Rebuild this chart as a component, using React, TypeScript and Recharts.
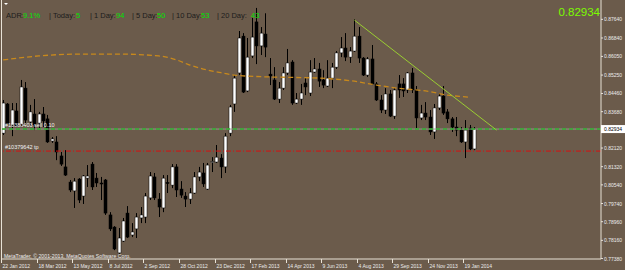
import React from 'react';
import { ComposedChart, Bar, Line, XAxis, YAxis, ReferenceLine } from 'recharts';

// weekly candles, 22 Jan 2012 .. early Feb 2014
const opens = [
  0.8276, 0.8401, 0.8311, 0.8371, 0.8315, 0.8469, 0.8324, 0.8358, 0.8319, 0.8358,
  0.8337, 0.8242, 0.8238, 0.8178, 0.8131, 0.8066, 0.8028, 0.8079, 0.8006, 0.8083,
  0.8143, 0.8083, 0.8062, 0.8075, 0.7925, 0.7873, 0.7762, 0.7813, 0.7933, 0.7839,
  0.7865, 0.7912, 0.7916, 0.7998, 0.8088, 0.7993, 0.7955, 0.8064, 0.8053, 0.8131,
  0.8036, 0.8006, 0.7993, 0.8019, 0.8088, 0.8105, 0.8036, 0.8150, 0.8152, 0.8169,
  0.8131, 0.8276, 0.8401, 0.8534, 0.8692, 0.8457, 0.8607, 0.8753, 0.8650, 0.8701,
  0.8529, 0.8504, 0.8422, 0.8469, 0.8534, 0.8581, 0.8405, 0.8422, 0.8491, 0.8448,
  0.8538, 0.8551, 0.8504, 0.8478, 0.8512, 0.8559, 0.8620, 0.8641, 0.8602, 0.8628,
  0.8692, 0.8598, 0.8525, 0.8594, 0.8487, 0.8418, 0.8375, 0.8444, 0.8349, 0.8487,
  0.8487, 0.8461, 0.8534, 0.8461, 0.8341, 0.8362, 0.8345, 0.8281, 0.8384, 0.8435,
  0.8367, 0.8337, 0.8302, 0.8289, 0.8238, 0.8298, 0.8208,
];
const highs = [
  0.8418, 0.8405, 0.8405, 0.8405, 0.8504, 0.8495, 0.8397, 0.8422, 0.8367, 0.8388,
  0.8354, 0.8259, 0.8263, 0.8195, 0.8203, 0.8075, 0.8083, 0.8083, 0.8096, 0.8139,
  0.8152, 0.8105, 0.8088, 0.8079, 0.7937, 0.7877, 0.7869, 0.7912, 0.7963, 0.7890,
  0.7933, 0.7959, 0.8019, 0.8109, 0.8105, 0.8019, 0.8096, 0.8096, 0.8143, 0.8143,
  0.8070, 0.8023, 0.8040, 0.8109, 0.8131, 0.8148, 0.8148, 0.8173, 0.8225, 0.8186,
  0.8276, 0.8397, 0.8525, 0.8714, 0.8705, 0.8684, 0.8770, 0.8813, 0.8731, 0.8790,
  0.8598, 0.8559, 0.8495, 0.8559, 0.8637, 0.8589, 0.8448, 0.8487, 0.8512, 0.8589,
  0.8598, 0.8577, 0.8546, 0.8589, 0.8577, 0.8628, 0.8688, 0.8705, 0.8645, 0.8765,
  0.8731, 0.8602, 0.8602, 0.8654, 0.8495, 0.8439, 0.8469, 0.8461, 0.8469, 0.8525,
  0.8512, 0.8538, 0.8555, 0.8478, 0.8397, 0.8409, 0.8375, 0.8401, 0.8448, 0.8478,
  0.8379, 0.8345, 0.8345, 0.8302, 0.8332, 0.8311, 0.8302,
];
const lows = [
  0.8268, 0.8311, 0.8263, 0.8302, 0.8302, 0.8311, 0.8311, 0.8289, 0.8298, 0.8302,
  0.8234, 0.8234, 0.8160, 0.8135, 0.8092, 0.8023, 0.7955, 0.7976, 0.7972, 0.8045,
  0.8032, 0.8045, 0.7989, 0.7925, 0.7856, 0.7774, 0.7758, 0.7809, 0.7826, 0.7830,
  0.7826, 0.7890, 0.7890, 0.7989, 0.7989, 0.7916, 0.7937, 0.8019, 0.8040, 0.8002,
  0.7998, 0.7959, 0.7972, 0.8015, 0.8070, 0.8045, 0.8032, 0.8109, 0.8148, 0.8083,
  0.8105, 0.8263, 0.8367, 0.8525, 0.8448, 0.8452, 0.8598, 0.8572, 0.8611, 0.8602,
  0.8482, 0.8418, 0.8405, 0.8461, 0.8525, 0.8397, 0.8401, 0.8397, 0.8439, 0.8435,
  0.8534, 0.8474, 0.8469, 0.8474, 0.8469, 0.8551, 0.8602, 0.8585, 0.8577, 0.8624,
  0.8577, 0.8521, 0.8517, 0.8482, 0.8414, 0.8362, 0.8358, 0.8345, 0.8337, 0.8427,
  0.8431, 0.8448, 0.8448, 0.8298, 0.8332, 0.8332, 0.8268, 0.8251, 0.8375, 0.8354,
  0.8319, 0.8281, 0.8263, 0.8234, 0.8169, 0.8203, 0.8203,
];
const closes = [
  0.8405, 0.8315, 0.8375, 0.8306, 0.8474, 0.8332, 0.8367, 0.8311, 0.8358, 0.8328,
  0.8238, 0.8251, 0.8195, 0.8143, 0.8096, 0.8032, 0.8070, 0.7989, 0.8092, 0.8092,
  0.8045, 0.8062, 0.8058, 0.7933, 0.7865, 0.7779, 0.7826, 0.7899, 0.7830, 0.7852,
  0.7916, 0.7925, 0.8006, 0.8092, 0.7998, 0.7959, 0.8083, 0.8060, 0.8131, 0.8032,
  0.8010, 0.7993, 0.8019, 0.8088, 0.8109, 0.8058, 0.8139, 0.8154, 0.8173, 0.8131,
  0.8263, 0.8388, 0.8512, 0.8684, 0.8452, 0.8602, 0.8688, 0.8650, 0.8705, 0.8645,
  0.8521, 0.8422, 0.8469, 0.8534, 0.8577, 0.8405, 0.8422, 0.8448, 0.8474, 0.8538,
  0.8551, 0.8499, 0.8482, 0.8512, 0.8559, 0.8620, 0.8641, 0.8602, 0.8628, 0.8692,
  0.8598, 0.8525, 0.8594, 0.8487, 0.8418, 0.8375, 0.8444, 0.8349, 0.8461, 0.8461,
  0.8457, 0.8534, 0.8461, 0.8341, 0.8362, 0.8345, 0.8281, 0.8384, 0.8435, 0.8362,
  0.8337, 0.8302, 0.8289, 0.8238, 0.8289, 0.8208, 0.82934,
];

// moving average read at a few bars, joined by the line
const maIdx = [0, 8, 17, 26, 35, 39, 42, 45, 49, 52, 58, 65, 71, 78, 84, 89, 95, 100, 105];
const maVals = [
  0.8590, 0.8607, 0.8615, 0.8615, 0.8607, 0.8590, 0.8568, 0.8551, 0.8535, 0.8525,
  0.8518, 0.8515, 0.8512, 0.8501, 0.8482, 0.8468, 0.8457, 0.8439, 0.8430,
];

// hand drawn trend line
const trendIdx = [79, 111];
const trendVals = [0.8761, 0.8289];

const dateTickIdx = [0, 8, 16, 24, 32, 40, 48, 56, 64, 72, 80, 88, 96, 104];
const dateLabels = [
  '22 Jan 2012', '18 Mar 2012', '13 May 2012', '8 Jul 2012', '2 Sep 2012', '28 Oct 2012', '23 Dec 2012',
  '17 Feb 2013', '14 Apr 2013', '9 Jun 2013', '4 Aug 2013', '29 Sep 2013', '24 Nov 2013', '19 Jan 2014',
];
const priceTicks = [
  0.8764, 0.8684, 0.8605, 0.8525, 0.8446, 0.8368, 0.82934, 0.8212, 0.8132, 0.8054, 0.7974, 0.7896, 0.7816, 0.7738,
];

const lastPrice = 0.82934;
const tpPrice = 0.8199;
const totalSlots = 135;

const BG = '#6b5b4b';
const AXIS = '#e8e2d6';
const TXT = '#ececec';

const data = Array.from({ length: totalSlots }, (_, i) => {
  const row: any = { i };
  if (i < opens.length) {
    row.o = opens[i];
    row.h = highs[i];
    row.l = lows[i];
    row.c = closes[i];
    row.range = [lows[i], highs[i]];
  }
  const m = maIdx.indexOf(i);
  if (m >= 0) row.ma = maVals[m];
  const t = trendIdx.indexOf(i);
  if (t >= 0) row.trend = trendVals[t];
  return row;
});

const Candle = (props: any) => {
  const { x, y, width, height, payload } = props;
  if (!payload || payload.h == null) return null;
  const { o, h, l, c } = payload;
  const top = Math.min(y, y + height);
  const span = Math.abs(height);
  const k = h === l ? 0 : span / (h - l);
  const py = (v: number) => top + (h - v) * k;
  const cx = Math.round(x + width / 2) + 0.5;
  const bull = c >= o;
  const bTop = py(Math.max(o, c));
  const bBot = py(Math.min(o, c));
  return (
    <g>
      <line x1={cx} x2={cx} y1={top} y2={top + span} stroke="#000" strokeWidth={1} />
      <rect
        x={cx - 1.5}
        y={bTop}
        width={3}
        height={Math.max(1, bBot - bTop)}
        fill={bull ? '#fff' : '#000'}
        stroke="#000"
        strokeWidth={0.5}
      />
    </g>
  );
};

const PriceTick = ({ x, y, payload }: any) => {
  const v = payload.value;
  if (v === lastPrice) {
    return (
      <g>
        <rect x={x} y={y - 4} width={24} height={8} fill="#fff" />
        <text x={x + 3} y={y + 2} fontSize={5} fill="#000" fontFamily="Liberation Sans, Arial">
          {v.toFixed(5)}
        </text>
      </g>
    );
  }
  return (
    <g>
      <line x1={x} x2={x + 2} y1={y} y2={y} stroke={AXIS} />
      <text x={x + 3} y={y + 2} fontSize={5} fill={TXT} fontFamily="Liberation Sans, Arial">
        {v.toFixed(5)}
      </text>
    </g>
  );
};

const DateTick = ({ x, y, payload }: any) => {
  const k = dateTickIdx.indexOf(payload.value);
  if (k < 0) return null;
  const tx = Math.round(x) - 1.5;
  return (
    <g>
      <line x1={tx} x2={tx} y1={y} y2={y + 4} stroke={AXIS} />
      <text x={tx + 1} y={y + 8.5} fontSize={5} fill={TXT} fontFamily="Liberation Sans, Arial">
        {dateLabels[k]}
      </text>
    </g>
  );
};

const lineLabel = (text: string) => (props: any) => {
  const vb = props.viewBox || {};
  return (
    <text x={(vb.x || 0) + 4} y={(vb.y || 0) - 2} fontSize={5.5} fill="#f2f2f2" fontFamily="Liberation Sans, Arial">
      {text}
    </text>
  );
};

const header = [
  { t: 'ADR:', x: 6, g: false },
  { t: '9.1%', x: 23, g: true },
  { t: '| Today:', x: 49, g: false },
  { t: '5', x: 76, g: true },
  { t: '| 1 Day:', x: 90, g: false },
  { t: '94', x: 116, g: true },
  { t: '| 5 Day:', x: 132, g: false },
  { t: '50', x: 157, g: true },
  { t: '| 10 Day:', x: 172, g: false },
  { t: '53', x: 201, g: true },
  { t: '| 20 Day:', x: 217, g: false },
  { t: '43', x: 251, g: true },
];

export default function App() {
  return (
    <div style={{ position: 'absolute', left: 0, top: 0, width: 625, height: 270, background: BG, overflow: 'hidden' }}>
      <ComposedChart
        width={625}
        height={270}
        data={data}
        margin={{ top: 0, right: 0, bottom: 0, left: 1 }}
        barCategoryGap={0}
      >
        <XAxis
          dataKey="i"
          type="category"
          ticks={dateTickIdx}
          interval={0}
          height={11}
          tickSize={0}
          tickMargin={0}
          axisLine={{ stroke: AXIS }}
          tickLine={false}
          tick={<DateTick />}
        />
        <YAxis
          orientation="right"
          width={24}
          domain={[0.7736, 0.8847]}
          allowDataOverflow
          ticks={priceTicks}
          interval={0}
          tickSize={0}
          tickMargin={0}
          axisLine={{ stroke: AXIS }}
          tickLine={false}
          tick={<PriceTick />}
        />
        <ReferenceLine y={lastPrice} stroke="#9a968c" strokeWidth={1} />
        <ReferenceLine
          y={lastPrice}
          stroke="#30b030"
          strokeWidth={1.5}
          strokeDasharray="4 3"
          label={lineLabel('#10380403 sell 0.10')}
        />
        <ReferenceLine
          y={tpPrice}
          stroke="#d81010"
          strokeWidth={1}
          strokeDasharray="5 2 1 2"
          label={lineLabel('#10379642 tp')}
        />
        <Line
          dataKey="ma"
          type="monotone"
          stroke="#c8891c"
          strokeWidth={1.3}
          strokeDasharray="5 3"
          dot={false}
          connectNulls
          isAnimationActive={false}
        />
        <Bar dataKey="range" shape={<Candle />} isAnimationActive={false} />
        <Line
          dataKey="trend"
          type="linear"
          stroke="#9acd32"
          strokeWidth={1}
          dot={false}
          connectNulls
          isAnimationActive={false}
        />
      </ComposedChart>
      <svg width={625} height={270} style={{ position: 'absolute', left: 0, top: 0, pointerEvents: 'none' }}>
        <line x1={1.5} x2={1.5} y1={0} y2={259} stroke={AXIS} />
        <polygon points="4,3 8,3 6,5" fill="#fff" />
        {header.map((h) => (
          <text
            key={h.t + h.x}
            x={h.x}
            y={17.5}
            fontSize={7.5}
            fontFamily="Liberation Sans, Arial"
            fill={h.g ? '#00e400' : '#1c1c1c'}
          >
            {h.t}
          </text>
        ))}
        <text x={600} y={15.5} fontSize={11.5} textAnchor="end" fill="#7cfc00" fontFamily="Liberation Sans, Arial">
          0.82934
        </text>
        <text x={4} y={257.5} fontSize={5.2} fill={TXT} fontFamily="Liberation Sans, Arial">
          MetaTrader, © 2001-2013, MetaQuotes Software Corp.
        </text>
      </svg>
    </div>
  );
}
